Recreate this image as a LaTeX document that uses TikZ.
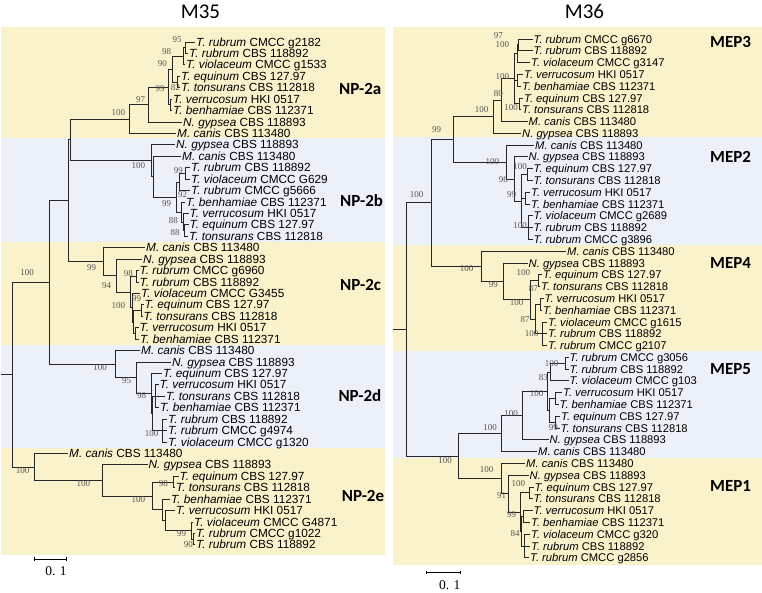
\documentclass[tikz,border=0pt]{standalone}
\usepackage{fontspec}
\setmainfont{Liberation Sans}
\newfontfamily\bsfont{Liberation Serif}
\newfontfamily\hdfont{Carlito}
\usetikzlibrary{arrows.meta}
\definecolor{cladeyellow}{HTML}{FAF2CA}
\definecolor{cladeblue}{HTML}{ECF0F9}
\definecolor{bootgray}{HTML}{555555}
\newcommand{\trub}{\textit{T. rubrum}}
\newcommand{\tvio}{\textit{T. violaceum}}
\newcommand{\tequ}{\textit{T. equinum}}
\newcommand{\tton}{\textit{T. tonsurans}}
\newcommand{\tver}{\textit{T. verrucosum}}
\newcommand{\tben}{\textit{T. benhamiae}}
\newcommand{\ngyp}{\textit{N. gypsea}}
\newcommand{\mcan}{\textit{M. canis}}

\begin{document}
\begin{tikzpicture}[
    x=1pt, y=-1pt,
    leaf/.style={anchor=west, inner sep=1pt, text height=8pt, text depth=0pt, font=\fontsize{11.8}{12}\selectfont},
    leafr/.style={leaf, font=\fontsize{11.2}{12}\selectfont},
    branch/.style={line width=1pt, draw=black!85},
    boot/.style={inner sep=0pt, text=bootgray, font=\bsfont\fontsize{9}{10}\selectfont},
    clade/.style={anchor=west, inner sep=0pt, font=\hdfont\bfseries\fontsize{17}{18}\selectfont},
    title/.style={inner sep=0pt, font=\hdfont\fontsize{21}{22}\selectfont},
    scalebar/.style={line width=1pt, {Bar[width=3.5pt]}-{Bar[width=3.5pt]}},
    scalelab/.style={inner sep=0pt, font=\bsfont\fontsize{13.5}{14}\selectfont},
]
    \useasboundingbox (0,0) rectangle (762,592);

    % Clade bands
    \fill[cladeyellow] (1,27) rectangle (385,137.5);
    \fill[cladeblue]   (1,137.5) rectangle (385,242);
    \fill[cladeyellow] (1,242) rectangle (385,345);
    \fill[cladeblue]   (1,345) rectangle (385,448);
    \fill[cladeyellow] (1,448) rectangle (385,555);
    \fill[cladeyellow] (393,27) rectangle (762,137);
    \fill[cladeblue]   (393,137) rectangle (762,245.3);
    \fill[cladeyellow] (393,245.3) rectangle (762,351.4);
    \fill[cladeblue]   (393,351.4) rectangle (762,457.5);
    \fill[cladeyellow] (393,457.5) rectangle (762,565);

    % Titles
    \node[title] (m35) at (200.5,11.5) {M35};
    \node[title] (m36) at (584.5,11.5) {M36};

    % M35 leaves
    \foreach \n/\x/\y/\lbl in {
        l0/195/42.0/{\trub{} CMCC g2182}, l1/188/53.4/{\trub{} CBS 118892},
        l2/185/64.9/{\tvio{} CMCC g1533}, l3/180/76.3/{\tequ{} CBS 127.97},
        l4/180/87.7/{\tton{} CBS 112818}, l5/172/99.2/{\tver{} HKI 0517},
        l6/172/110.6/{\tben{} CBS 112371}, l7/182/122.0/{\ngyp{} CBS 118893},
        l8/176/133.4/{\mcan{} CBS 113480},
        l9/175/144.9/{\ngyp{} CBS 118893}, l10/181/156.3/{\mcan{} CBS 113480},
        l11/190/167.7/{\trub{} CBS 118892}, l12/190/179.2/{\tvio{} CMCC G629},
        l13/190/190.6/{\trub{} CMCC g5666}, l14/185/202.0/{\tben{} CBS 112371},
        l15/188.5/213.5/{\tver{} HKI 0517}, l16/188.5/224.9/{\tequ{} CBS 127.97},
        l17/188/236.3/{\tton{} CBS 112818},
        l18/145/247.7/{\mcan{} CBS 113480}, l19/142/259.2/{\ngyp{} CBS 118893},
        l20/138.5/270.6/{\trub{} CMCC g6960}, l21/138.5/282.0/{\trub{} CBS 118892},
        l22/140/293.5/{\tvio{} CMCC G3455}, l23/143.5/304.9/{\tequ{} CBS 127.97},
        l24/142.5/316.3/{\tton{} CBS 112818}, l25/138.5/327.8/{\tver{} HKI 0517},
        l26/139/339.2/{\tben{} CBS 112371},
        l27/140/350.6/{\mcan{} CBS 113480}, l28/171/362.0/{\ngyp{} CBS 118893},
        l29/162/373.5/{\tequ{} CBS 127.97}, l30/158.5/384.9/{\tver{} HKI 0517},
        l31/165/396.3/{\tton{} CBS 112818}, l32/159/407.8/{\tben{} CBS 112371},
        l33/167/419.2/{\trub{} CBS 118892}, l34/167/430.6/{\trub{} CMCC g4974},
        l35/167/442.1/{\tvio{} CMCC g1320},
        l36/68/453.5/{\mcan{} CBS 113480}, l37/147.5/464.9/{\ngyp{} CBS 118893},
        l38/178.5/476.3/{\tequ{} CBS 127.97}, l39/175/487.8/{\tton{} CBS 112818},
        l40/170/499.2/{\tben{} CBS 112371}, l41/175/510.6/{\tver{} HKI 0517},
        l42/193/522.1/{\tvio{} CMCC G4871}, l43/195/533.5/{\trub{} CMCC g1022},
        l44/195/544.9/{\trub{} CBS 118892}}
        \node[leaf] (\n) at (\x,\y) {\lbl};

    % M35 internal nodes
    \foreach \n/\x/\y in {
        a1/185/47.7, a2/183/56.3, a3/177/82.0, a4/172/69.2, a8/170/104.9,
        a5/168/87.0, a6/148/104.5, a7/129/119.0,
        b4/185/173.4, b5/179/182.0, b7/184.3/230.6, b8/183/222.0, b9/181.5/212.0,
        b3/176.7/197.0, b2/153.3/176.7, b1/151.7/160.8,
        c4/136.7/276.3, c6/141/310.6, c5/135/333.5, c9/133.5/322.0, c8/132/307.8,
        c3/130/292.0, c2/116/275.6, c1/103.3/261.7,
        d6/162.7/430.6, d7/155/396.3, d5/152.7/413.5, d3/151.5/393.5,
        d2/136.7/377.8, d1/115/364.2,
        e4/173/482.1, e8/193/539.2, e7/191.7/530.7, e6/165/520.6, e5/162.7/509.9,
        e3/152.3/496.0, e2/102.3/480.4, e1/34.3/467.0,
        k1/70/139.9, k2/68/200.8, k3/49/282.5, k4/12.3/374.7, k0/1/374.7}
        \coordinate (\n) at (\x,\y);

    % M35 branches
    \foreach \p/\c in {
        a1/l0, a1/l1, a2/a1, a2/l2, a3/l3, a3/l4, a4/a2, a4/a3, a8/l5, a8/l6,
        a5/a4, a5/a8, a6/a5, a6/l7, a7/a6, a7/l8,
        b4/l11, b4/l12, b5/b4, b5/l13, b7/l16, b7/l17, b8/l15, b8/b7, b9/l14, b9/b8,
        b3/b5, b3/b9, b2/l10, b2/b3, b1/l9, b1/b2,
        c4/l20, c4/l21, c6/l23, c6/l24, c5/l25, c5/l26, c9/c6, c9/c5, c8/l22, c8/c9,
        c3/c4, c3/c8, c2/l19, c2/c3, c1/l18, c1/c2,
        d6/l33, d6/l34, d6/l35, d7/l30, d7/l31, d7/l32, d5/d7, d5/d6, d3/l29, d3/d5,
        d2/l28, d2/d3, d1/l27, d1/d2,
        e4/l38, e4/l39, e8/l43, e8/l44, e7/l42, e7/e8, e6/l41, e6/e7, e5/l40, e5/e6,
        e3/e4, e3/e5, e2/l37, e2/e3, e1/l36, e1/e2,
        k1/a7, k1/b1, k2/k1, k2/c1, k3/k2, k3/d1, k4/k3, k4/e1}
        \draw[branch] (\p) |- (\c);
    \draw[branch] (k0) -- (k4);

    % M35 bootstrap values
    \foreach \x/\y/\v [count=\k] in {
        177/39.3/95, 166.7/51.7/98, 162.3/64/90, 175.3/87.3/82, 160/88.3/99,
        140.7/100/97, 118.3/112.7/100,
        138.3/165.7/100, 178.3/171/99, 182.7/195/92, 166.7/203.3/99,
        173.3/221/88, 175/232.7/88, 27/273/100,
        91.7/267.7/99, 106.7/286/94, 128.3/274/98, 136.7/298.3/99, 118.3/306/100,
        100/367.7/100, 126.7/381/95, 141.7/396/98, 151.7/434/100,
        22.7/470.7/100, 83.3/484/100, 163.3/484/98, 138.3/499.3/100,
        181.7/533.3/99, 188.3/545/90}
        \node[boot] (bl\k) at (\x,\y) {\v};

    % M35 clade names
    \node[clade] (np2a) at (339,89) {NP-2a};
    \node[clade] (np2b) at (340,200.7) {NP-2b};
    \node[clade] (np2c) at (340,285) {NP-2c};
    \node[clade] (np2d) at (338.3,396) {NP-2d};
    \node[clade] (np2e) at (341.7,495.7) {NP-2e};

    % M36 leaves
    \foreach \n/\x/\y/\lbl in {
        r0/532.5/39.0/{\trub{} CMCC g6670}, r1/532.5/50.8/{\trub{} CBS 118892},
        r2/530/62.6/{\tvio{} CMCC g3147}, r3/523/74.4/{\tver{} HKI 0517},
        r4/521/86.2/{\tben{} CBS 112371}, r5/523/98.0/{\tequ{} CBS 127.97},
        r6/521/109.7/{\tton{} CBS 112818}, r7/527.5/121.5/{\mcan{} CBS 113480},
        r8/521/133.3/{\ngyp{} CBS 118893},
        r9/534/145.1/{\mcan{} CBS 113480}, r10/527.5/156.9/{\ngyp{} CBS 118893},
        r11/532.5/168.7/{\tequ{} CBS 127.97}, r12/532.5/180.5/{\tton{} CBS 112818},
        r13/530/192.3/{\tver{} HKI 0517}, r14/530/204.1/{\tben{} CBS 112371},
        r15/532.5/215.9/{\tvio{} CMCC g2689}, r16/532.5/227.6/{\trub{} CBS 118892},
        r17/532.5/239.4/{\trub{} CMCC g3896},
        r18/566/251.2/{\mcan{} CBS 113480}, r19/527.5/263.0/{\ngyp{} CBS 118893},
        r20/542/274.8/{\tequ{} CBS 127.97}, r21/540/286.6/{\tton{} CBS 112818},
        r22/543.5/298.4/{\tver{} HKI 0517}, r23/542/310.2/{\tben{} CBS 112371},
        r24/547/322.0/{\tvio{} CMCC g1615}, r25/547/333.8/{\trub{} CBS 118892},
        r26/547/345.5/{\trub{} CMCC g2107},
        r27/568.5/357.3/{\trub{} CMCC g3056}, r28/568.5/369.1/{\trub{} CBS 118892},
        r29/568.5/380.9/{\tvio{} CMCC g103}, r30/562/392.7/{\tver{} HKI 0517},
        r31/558.5/404.5/{\tben{} CBS 112371}, r32/560/416.3/{\tequ{} CBS 127.97},
        r33/559.5/428.1/{\tton{} CBS 112818}, r34/548.5/439.9/{\ngyp{} CBS 118893},
        r35/537/451.7/{\mcan{} CBS 113480},
        r36/525/463.4/{\mcan{} CBS 113480}, r37/528.5/475.2/{\ngyp{} CBS 118893},
        r38/533.5/487.0/{\tequ{} CBS 127.97}, r39/532.5/498.8/{\tton{} CBS 112818},
        r40/532.5/510.6/{\tver{} HKI 0517}, r41/530/522.4/{\tben{} CBS 112371},
        r42/530/534.2/{\tvio{} CMCC g320}, r43/530/546.0/{\trub{} CBS 118892},
        r44/529/557.8/{\trub{} CMCC g2856}}
        \node[leafr] (\n) at (\x,\y) {\lbl};

    % M36 internal nodes
    \foreach \n/\x/\y in {
        s1/518.7/44.9, s2/517.7/53.8, s3/517.3/80.3, s4/519.5/103.9,
        s5/514.3/78.8, s6/501.7/100.2, s7/493.3/116.7,
        t4/527.7/174.6, t5/525/198.2, t6/528.3/227.7, t3/521.7/201.1,
        t2/514.3/179.0, t1/506.7/162.1,
        u4/538.3/280.7, u5/540/304.3, u6/542/333.8, u8/535/319.0,
        u3/530/299.9, u2/503.3/281.4, u1/481.7/266.3,
        v4/565/363.2, v5/550/372.1, v6/555/398.6, v7/555.5/422.2, v8/549/410.4,
        v3/547.5/391.2, v2/522.7/415.6, v1/501.7/433.6,
        w4/529/492.9, w5/523.3/516.5, w6/524.3/546.0, w7/521.7/531.3,
        w3/520/512.1, w2/508.7/493.7, w1/501.7/478.5,
        z1/453.3/139.4, z2/431.7/202.9, z4/458.3/456.1, z3/406/329.5, z0/393/329.5}
        \coordinate (\n) at (\x,\y);

    % M36 branches
    \foreach \p/\c in {
        s1/r0, s1/r1, s2/s1, s2/r2, s3/r3, s3/r4, s4/r5, s4/r6,
        s5/s2, s5/s3, s5/s4, s6/s5, s6/r7, s7/s6, s7/r8,
        t4/r11, t4/r12, t5/r13, t5/r14, t6/r15, t6/r16, t6/r17,
        t3/t4, t3/t5, t3/t6, t2/r10, t2/t3, t1/r9, t1/t2,
        u4/r20, u4/r21, u5/r22, u5/r23, u6/r24, u6/r25, u6/r26, u8/u5, u8/u6,
        u3/u4, u3/u8, u2/r19, u2/u3, u1/r18, u1/u2,
        v4/r27, v4/r28, v5/v4, v5/r29, v6/r30, v6/r31, v7/r32, v7/r33,
        v8/v6, v8/v7, v3/v5, v3/v8, v2/v3, v2/r34, v1/v2, v1/r35,
        w4/r38, w4/r39, w5/r40, w5/r41, w6/r42, w6/r43, w6/r44, w7/w5, w7/w6,
        w3/w4, w3/w7, w2/r37, w2/w3, w1/r36, w1/w2,
        z1/s7, z1/t1, z2/z1, z2/u1, z4/v1, z4/w1, z3/z2, z3/z4}
        \draw[branch] (\p) |- (\c);
    \draw[branch] (z0) -- (z3);

    % M36 bootstrap values
    \foreach \x/\y/\v [count=\k] in {
        498.3/35.7/97, 502.3/44.3/100, 502.3/76.7/100, 511/107.3/100,
        498.3/94/80, 481.7/110/100, 436.7/130/99,
        492.3/161.7/100, 520/166.7/100, 503.3/179.3/96, 511.7/195/99,
        520/225.7/100, 416.7/195/100,
        466.7/269/100, 523.3/272.5/100, 493.3/285/99, 533.3/288.3/87,
        516.7/302.7/100, 525/320/87, 531.7/333.3/100,
        551.7/363.3/100, 543.3/377.3/83, 536.7/394/100, 511/413.3/100,
        553.3/427.7/99, 490/427.7/100,
        445/460.7/100, 486.7/469.3/100, 501.7/495.7/91, 518.3/484/100,
        511.7/514.3/99, 515/533.3/84}
        \node[boot] (br\k) at (\x,\y) {\v};

    % M36 clade names
    \node[clade] (mep3) at (710,41.7) {MEP3};
    \node[clade] (mep2) at (710,156.7) {MEP2};
    \node[clade] (mep4) at (710,263.3) {MEP4};
    \node[clade] (mep5) at (710,369) {MEP5};
    \node[clade] (mep1) at (710,486) {MEP1};

    % Scale bars
    \coordinate (sb35a) at (34.3,559);
    \coordinate (sb35b) at (66.7,559);
    \draw[scalebar] (sb35a) -- (sb35b);
    \node[scalelab] (sb35) at (56,570.7) {0. 1};
    \coordinate (sb36a) at (425.7,572.3);
    \coordinate (sb36b) at (461,572.3);
    \draw[scalebar] (sb36a) -- (sb36b);
    \node[scalelab] (sb36) at (449.7,585) {0. 1};
\end{tikzpicture}
\end{document}
